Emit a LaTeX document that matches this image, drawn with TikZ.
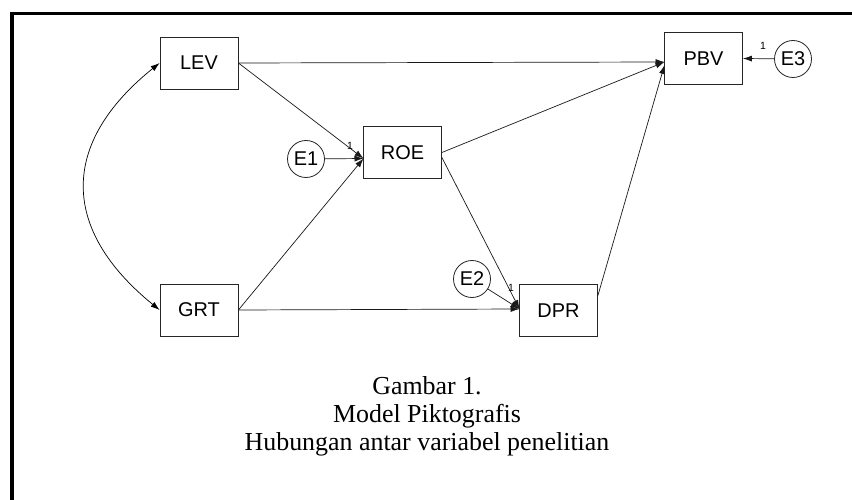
\documentclass[tikz,border=0pt]{standalone}
\usepackage{fontspec}
\setmainfont{Liberation Serif}
\newfontfamily\arialfont{Liberation Sans}
\usetikzlibrary{arrows.meta}
\tikzset{
  var/.style={draw=black!85, line width=0.8bp, minimum width=78bp, minimum height=52bp, inner sep=0pt, font=\arialfont\fontsize{20}{22}\selectfont},
  err/.style={draw=black!85, line width=0.8bp, circle, minimum size=37bp, inner sep=0pt, font=\arialfont\fontsize{20}{22}\selectfont},
  arr/.style={draw=black!90, line width=0.7bp, -{Latex[length=9bp,width=6bp]}},
  one/.style={font=\arialfont\fontsize{10.5}{12}\selectfont, inner sep=0pt},
  capt/.style={font=\fontsize{26}{28}\selectfont, anchor=base, inner sep=0pt}
}
\begin{document}
\begin{tikzpicture}[x=1bp,y=-1bp]
\useasboundingbox (0,0) rectangle (852,500);
\fill[white] (0,0) rectangle (852,500);
% frame
\draw[line width=3.5bp] (12,500) -- (12,13.5) -- (852,13.5);
% variables
\node[var] (LEV) at (199,63) {LEV};
\node[var] (GRT) at (199,310) {GRT};
\node[var] (ROE) at (402.5,152.5) {ROE};
\node[var] (DPR) at (558.5,310.5) {DPR};
\node[var] (PBV) at (703.5,58.5) {PBV};
% errors
\node[err] (E1) at (306,159) {E1};
\node[err] (E2) at (472,279) {E2};
\node[err] (E3) at (793,59) {E3};
% entry points
\coordinate (roein) at (363.5,158.5);
\coordinate (dprin) at (519.5,309);
\coordinate (pbvin) at (664.5,62);
\coordinate (pbvin2) at (664.5,65);
% paths
\draw[arr] (LEV.east) -- (pbvin);
\draw[arr] (LEV.east) -- (roein);
\draw[arr] (E1) -- (roein);
\draw[arr] (GRT.east) -- (roein);
\draw[arr] (GRT.east) -- (dprin);
\draw[arr] (ROE.east) -- (pbvin);
\draw[arr] ([yshift=-5bp]ROE.east) -- (dprin);
\draw[arr] (E2) -- (dprin);
\draw[arr] ([yshift=15bp]DPR.east) -- (pbvin2);
\draw[arr] (E3) -- (PBV.east);
\draw[line width=0.7bp, {Latex[length=9bp,width=6bp]}-{Latex[length=9bp,width=6bp]}]
  (LEV.west) .. controls (60,143) and (60,229) .. (GRT.west);
% regression weight labels
\node[one] (l1) at (350,146) {1};
\node[one] (l2) at (511,288) {1};
\node[one] (l3) at (763,46) {1};
% caption
\node[capt] (cap1) at (427,394) {Gambar 1.};
\node[capt] (cap2) at (427,422) {Model Piktografis};
\node[capt] (cap3) at (427,450) {Hubungan antar variabel penelitian};
\end{tikzpicture}
\end{document}
